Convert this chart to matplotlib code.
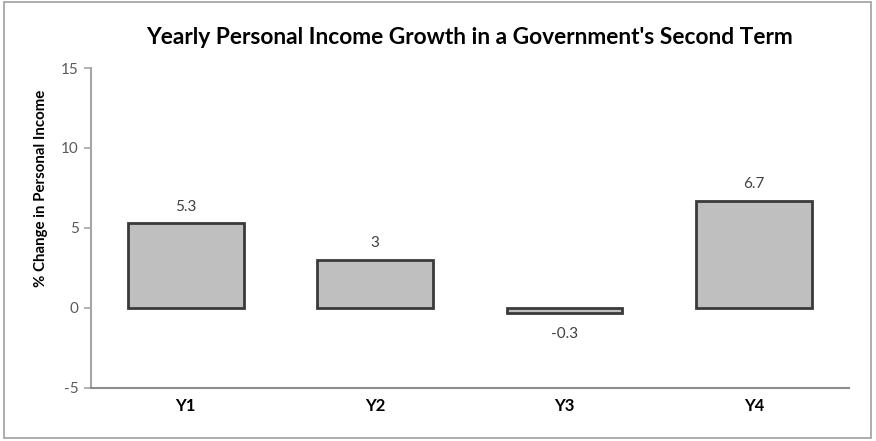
import matplotlib.pyplot as plt
from matplotlib.patches import Rectangle

categories = ['Y1', 'Y2', 'Y3', 'Y4']
growth = [5.3, 3, -0.3, 6.7]
yticks = [-5, 0, 5, 10, 15]

plt.rcParams['font.family'] = ['Lato', 'DejaVu Sans']
plt.rcParams['axes.unicode_minus'] = False

fig = plt.figure(figsize=(8.76, 4.41), dpi=100)
ax = fig.add_axes([0.1039, 0.1202, 0.8651, 0.7256])

x = range(len(categories))
ax.bar(x, growth, width=0.61, color='#bfbfbf', edgecolor='#3a3a3a',
       linewidth=2.0, zorder=3)

for i, v in enumerate(growth):
    label = '%g' % v
    if v >= 0:
        ax.text(i, v + 0.6, label, ha='center', va='bottom',
                fontsize=11, color='#404040')
    else:
        ax.text(i, v - 0.9, label, ha='center', va='top',
                fontsize=11, color='#404040')

ax.set_xlim(-0.5, len(categories) - 0.5)
ax.set_ylim(-5, 15)
ax.set_yticks(yticks)
ax.set_xticks(list(x))
ax.set_xticklabels(categories, fontweight='bold', fontsize=12)
ax.tick_params(axis='x', length=0, pad=7)
ax.tick_params(axis='y', length=5, width=1.2, color='#a6a6a6',
               labelsize=11, labelcolor='#595959', pad=4)

ax.spines['top'].set_visible(False)
ax.spines['right'].set_visible(False)
ax.spines['left'].set_color('#a6a6a6')
ax.spines['left'].set_linewidth(1.5)
ax.spines['bottom'].set_color('#8c8c8c')
ax.spines['bottom'].set_linewidth(1.5)

ax.set_ylabel('% Change in Personal Income', fontweight='bold', fontsize=10.8)
ax.yaxis.set_label_coords(-0.057, 0.625)
fig.text(0.536, 0.914, "Yearly Personal Income Growth in a Government's Second Term",
         ha='center', va='center', fontweight='bold', fontsize=16.4)

# thin frame around the whole chart
fig.patches.append(Rectangle((0.004, 0.007), 0.990, 0.988, transform=fig.transFigure,
                             fill=False, edgecolor='#a0a0a0', linewidth=1.2))

plt.savefig('out.png', dpi=100)
